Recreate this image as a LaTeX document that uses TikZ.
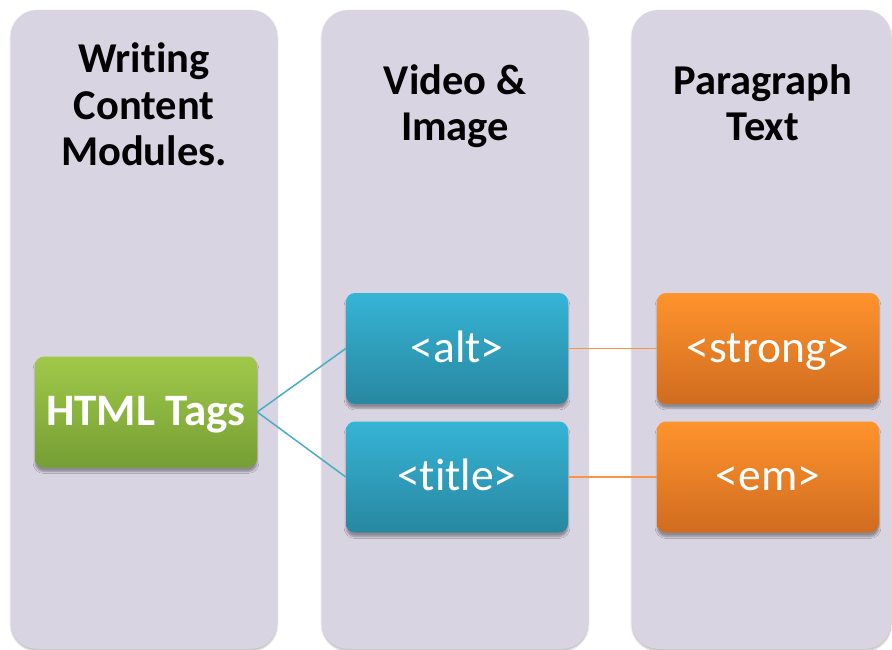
\documentclass[tikz,border=0pt]{standalone}
\usepackage{fontspec}
\setmainfont[Ligatures={NoCommon}]{Carlito}
\usetikzlibrary{shadows.blur}
\definecolor{colbg}{RGB}{216,212,226}
\definecolor{greentop}{RGB}{160,201,74}
\definecolor{greenbot}{RGB}{117,158,52}
\definecolor{bluetop}{RGB}{54,180,214}
\definecolor{bluebot}{RGB}{40,135,160}
\definecolor{orangetop}{RGB}{255,147,44}
\definecolor{orangebot}{RGB}{208,108,32}
\definecolor{bluelinkc}{RGB}{75,172,198}
\definecolor{orangelinkc}{RGB}{247,150,70}
\tikzset{
  column/.style={fill=colbg, rounded corners=26pt, minimum height=639pt, inner sep=0pt,
    blur shadow={shadow xshift=0pt, shadow yshift=-1.5pt, shadow blur steps=4, shadow opacity=30}},
  heading/.style={align=center, font=\fontsize{42.5}{46.5}\selectfont\bfseries, text=black},
  tagbox/.style={rounded corners=9pt, minimum width=222pt, minimum height=111pt, inner sep=0pt, text=white,
    font=\fontsize{45.5}{50}\selectfont, text height=34pt, text depth=7pt,
    blur shadow={shadow xshift=0pt, shadow yshift=-4pt, shadow blur steps=5, shadow opacity=35}},
  greenbox/.style={tagbox, top color=greentop, bottom color=greenbot, font=\fontsize{45}{50}\selectfont\bfseries},
  bluebox/.style={tagbox, top color=bluetop, bottom color=bluebot},
  orangebox/.style={tagbox, top color=orangetop, bottom color=orangebot},
  bluelink/.style={draw=bluelinkc, line width=1.5pt},
  orangelink/.style={draw=orangelinkc, line width=1.5pt}
}
\begin{document}
\begin{tikzpicture}[x=1pt,y=-1pt]
\useasboundingbox (0,0) rectangle (892,650);
\node[column, minimum width=266pt] (col1) at (144,329.5) {};
\node[column, minimum width=266pt] (col2) at (455,329.5) {};
\node[column, minimum width=259pt] (col3) at (761.5,329.5) {};
\node[heading] (h1) at (144,104.5) {Writing\\Content\\Modules.};
\node[heading] (h2) at (455,106) {Video \&\\Image};
\node[heading] (h3) at (763,102.5) {Paragraph\\Text};
\node[greenbox] (html) at (146,412) {HTML Tags};
\node[bluebox] (alt) at (457,348.5) {<alt>};
\node[bluebox] (title) at (457,477) {<title>};
\node[orangebox] (strong) at (768,348.5) {<strong>};
\node[orangebox] (em) at (768,477) {<em>};
\draw[bluelink] (html.east) -- (alt.west);
\draw[bluelink] (html.east) -- (title.west);
\draw[orangelink] (alt.east) -- (strong.west);
\draw[orangelink] (title.east) -- (em.west);
\end{tikzpicture}
\end{document}
